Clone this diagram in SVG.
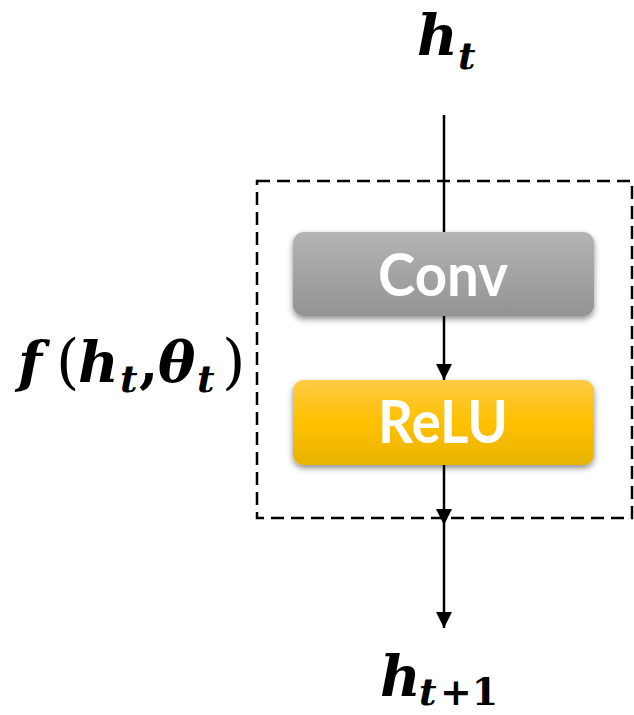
<svg xmlns="http://www.w3.org/2000/svg" width="634" height="715" viewBox="0 0 634 715">
  <style>
    .math { font-family: "DejaVu Serif", "Liberation Serif", serif; font-weight: bold; fill: #000; }
    .it { font-style: italic; }
    .main { font-size: 56px; }
    .sub { font-size: 38px; }
    .paren { font-size: 60px; font-weight: normal; }
    .label { font-family: Lato, "Open Sans", "Liberation Sans", sans-serif; font-weight: bold; font-size: 60px; fill: #fff; }
    .wire { stroke: #000; stroke-width: 2.5; fill: none; }
    .frame { stroke: #000; stroke-width: 2.5; fill: none; stroke-dasharray: 13 7; }
  </style>
  <defs>
    <linearGradient id="gGray" x1="0" y1="0" x2="0" y2="1">
      <stop offset="0" stop-color="#b4b4b4"/>
      <stop offset="1" stop-color="#939393"/>
    </linearGradient>
    <linearGradient id="gGold" x1="0" y1="0" x2="0" y2="1">
      <stop offset="0" stop-color="#ffca45"/>
      <stop offset="0.5" stop-color="#ffc000"/>
      <stop offset="1" stop-color="#e8b400"/>
    </linearGradient>
    <filter id="shadow" x="-10%" y="-20%" width="120%" height="150%">
      <feDropShadow dx="0" dy="3" stdDeviation="3" flood-color="#000" flood-opacity="0.45"/>
    </filter>
    <marker id="arrow" markerUnits="userSpaceOnUse" markerWidth="17" markerHeight="17" refX="16" refY="8" orient="auto">
      <path d="M0,0 L16,8 L0,16 Z" fill="#000"/>
    </marker>
  </defs>

  <!-- dashed frame around the block -->
  <rect class="frame" x="257" y="181" width="375" height="337"/>

  <!-- connectors -->
  <g id="connectors">
    <line class="wire" x1="444" y1="115" x2="444" y2="233"/>
    <line class="wire" x1="444" y1="316" x2="444" y2="380" marker-end="url(#arrow)"/>
    <line class="wire" x1="444" y1="465" x2="444" y2="525" marker-end="url(#arrow)"/>
    <line class="wire" x1="444" y1="525" x2="444" y2="628" marker-end="url(#arrow)"/>
  </g>

  <!-- input label h_t -->
  <g id="input">
    <text class="math it main" x="417" y="55">h</text>
    <text class="math it sub" x="458" y="69">t</text>
  </g>

  <!-- convolution -->
  <g id="conv">
    <rect x="293" y="232" width="301" height="84" rx="11" fill="url(#gGray)" filter="url(#shadow)"/>
    <text class="label" x="378" y="296" textLength="130" lengthAdjust="spacingAndGlyphs">Conv</text>
  </g>

  <!-- activation -->
  <g id="relu">
    <rect x="293" y="380" width="301" height="85" rx="11" fill="url(#gGold)" filter="url(#shadow)"/>
    <text class="label" x="378" y="443" textLength="130" lengthAdjust="spacingAndGlyphs">ReLU</text>
  </g>

  <!-- block function label -->
  <g id="func">
    <text class="math it main" x="18" y="382">f</text>
    <text class="math paren" x="56" y="382">(</text>
    <text class="math it main" x="78" y="382">h</text>
    <text class="math it sub" x="120" y="392">t</text>
    <text class="math main" x="139" y="382">,</text>
    <text class="math it main" x="158" y="382">θ</text>
    <text class="math it sub" x="197" y="392">t</text>
    <text class="math paren" x="222" y="382">)</text>
  </g>

  <!-- output label h_{t+1} -->
  <g id="output">
    <text class="math it main" x="380" y="696">h</text>
    <text class="math it sub" x="419" y="705">t</text>
    <text class="math sub" x="440" y="705">+1</text>
  </g>
</svg>
